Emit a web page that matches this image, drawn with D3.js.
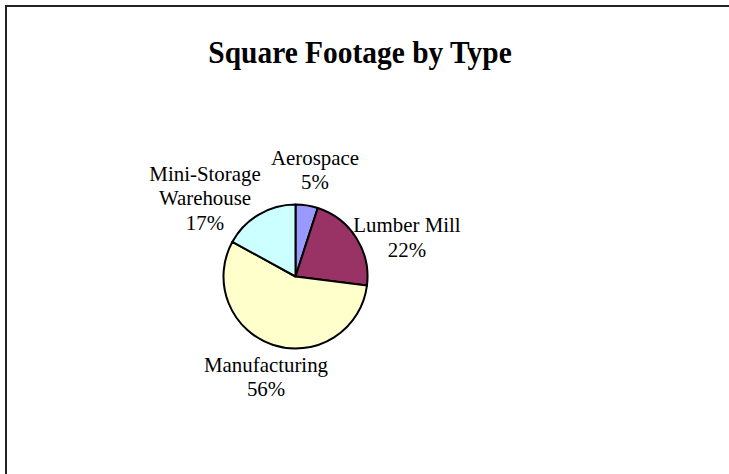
<!DOCTYPE html>
<html>
<head>
<meta charset="utf-8">
<script src="https://cdn.jsdelivr.net/npm/d3@7"></script>
<style>
  html, body { margin: 0; padding: 0; background: #fff; }
  svg { display: block; }
  text { font-family: "Liberation Serif", "Times New Roman", serif; fill: #000; }
</style>
</head>
<body>
<svg id="chart" width="729" height="474"></svg>
<script>
// Share of total square footage per facility type (percent)
const categories = ["Aerospace", "Lumber Mill", "Manufacturing", "Mini-Storage Warehouse"];
const labelLines = [["Aerospace"], ["Lumber Mill"], ["Manufacturing"], ["Mini-Storage", "Warehouse"]];
const shares = [5, 22, 56, 17];
const sliceColors = ["#9999FF", "#993366", "#FFFFCC", "#CCFFFF"];
const titleText = "Square Footage by Type";

// Layout
const W = 729, H = 474;
const cx = 295.5, cy = 276.5, radius = 72;
const labelRadius = 110;
const labelNudge = [[2.3, 1.5], [18.6, 19.5], [4.5, -4.5], [-34.5, 16]];
const lineHeight = 24.5;
const textSqueeze = 0.95;   // slightly condensed lettering

const svg = d3.select("#chart");

// Frame (top and left edges of the chart area)
svg.append("path")
  .attr("d", `M6,${H} V6 H${W}`)
  .attr("fill", "none")
  .attr("stroke", "#222")
  .attr("stroke-width", 2);

// Title
svg.append("g")
  .attr("transform", `translate(360,63) scale(${textSqueeze},1)`)
  .append("text")
  .attr("text-anchor", "middle")
  .style("font-size", "31px")
  .style("font-weight", "bold")
  .text(titleText);

const pie = d3.pie().sort(null).value(d => d)(shares);
const arc = d3.arc().innerRadius(0).outerRadius(radius);
const labelArc = d3.arc().innerRadius(labelRadius).outerRadius(labelRadius);

const g = svg.append("g").attr("transform", `translate(${cx},${cy})`);

g.selectAll("path.slice")
  .data(pie)
  .join("path")
  .attr("class", "slice")
  .attr("d", arc)
  .attr("fill", (d, i) => sliceColors[i])
  .attr("stroke", "#000")
  .attr("stroke-width", 2)
  .attr("stroke-linejoin", "round");

// Category name + percentage beside each slice
const labels = g.selectAll("g.label")
  .data(pie)
  .join("g")
  .attr("class", "label")
  .attr("transform", (d, i) => {
    const [px, py] = labelArc.centroid(d);
    return `translate(${px + labelNudge[i][0]},${py + labelNudge[i][1]}) scale(${textSqueeze},1)`;
  });

labels.each(function (d, i) {
  const lines = labelLines[i].concat([d3.format(".0%")(shares[i] / d3.sum(shares))]);
  const firstBaseline = -(lines.length - 1) * lineHeight / 2 + 7.5;
  const t = d3.select(this).append("text")
    .attr("text-anchor", "middle")
    .style("font-size", "22px");
  lines.forEach((s, k) => {
    t.append("tspan")
      .attr("x", 0)
      .attr("y", firstBaseline + k * lineHeight)
      .text(s);
  });
});
</script>
</body>
</html>
